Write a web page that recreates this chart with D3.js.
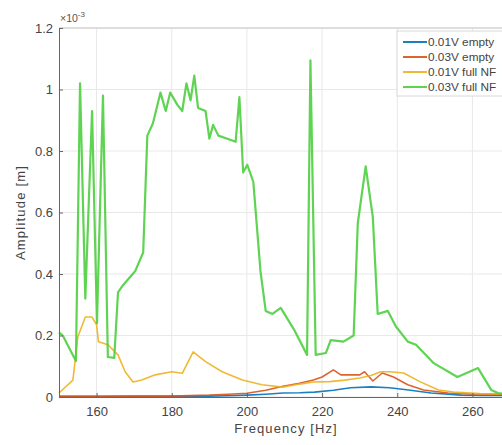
<!DOCTYPE html>
<html><head><meta charset="utf-8">
<script src="https://cdn.jsdelivr.net/npm/d3@7"></script>
<style>
html,body{margin:0;padding:0;background:#fff;}
svg{display:block;font-family:"Liberation Sans",Arial,sans-serif;}
</style></head><body>
<svg id="c" width="502" height="445"></svg>
<script>
// Frequency [Hz] / amplitude [x1e-3 m]
const seriesNames = ["0.01V empty", "0.03V empty", "0.01V full NF", "0.03V full NF"];
const seriesColors = ["#0072BD", "#D95319", "#EDB120", "#4ccf3f"];
const xTicks = [160, 180, 200, 220, 240, 260];
const yTicks = [0, 0.2, 0.4, 0.6, 0.8, 1, 1.2];

const blueF = [150, 160, 170, 180, 190, 195, 200, 205, 209.6, 214, 218, 223, 227.6, 233, 238, 243, 249, 257, 263, 270];
const blueV = [0.001, 0.001, 0.002, 0.002, 0.003, 0.004, 0.006, 0.009, 0.013, 0.014, 0.016, 0.022, 0.03, 0.033, 0.03, 0.023, 0.013, 0.006, 0.005, 0.005];

const orangeF = [150, 160, 170, 180, 190, 195, 200, 205, 209.6, 214, 217.7, 220, 223, 225, 230, 231.3, 233.5, 236, 239, 242.8, 247, 253.5, 260, 270];
const orangeV = [0.003, 0.003, 0.003, 0.003, 0.006, 0.009, 0.012, 0.022, 0.035, 0.045, 0.055, 0.065, 0.088, 0.072, 0.072, 0.082, 0.052, 0.078, 0.065, 0.04, 0.023, 0.013, 0.01, 0.009];

const yellowF = [150, 153.7, 155, 157, 158.8, 160, 160.5, 163, 165.7, 167.6, 169.7, 172, 175.6, 180, 182.8, 185.7, 189, 193.4, 198.8, 204, 209.5, 214, 217.7, 222, 226, 230, 233, 235.6, 238, 241.7, 246, 251, 255, 262, 270];
const yellowV = [0.013, 0.055, 0.195, 0.26, 0.26, 0.235, 0.18, 0.17, 0.137, 0.082, 0.049, 0.055, 0.072, 0.082, 0.077, 0.147, 0.115, 0.082, 0.055, 0.04, 0.032, 0.042, 0.049, 0.05, 0.055, 0.062, 0.07, 0.082, 0.082, 0.078, 0.05, 0.023, 0.016, 0.011, 0.01];

const greenF = [150, 151, 154.5, 155.6, 157, 158.8, 160.1, 161.7, 163, 164.7, 165.7, 166.8, 170.3, 172.4, 173.5, 175, 177, 178.4, 179.6, 181.5, 182.8, 183.9, 185, 186, 187, 189, 190, 191, 192.4, 194.8, 197, 198, 199, 200.1, 201.7, 203.6, 205, 206.8, 209, 212.5, 216, 216.9, 218.3, 221, 222.3, 225.7, 228.4, 229.5, 231.6, 233.5, 234.8, 237.5, 239.6, 242.8, 245, 249.7, 256, 261.5, 265, 266.8, 270];
const greenV = [0.21, 0.2, 0.117, 1.02, 0.32, 0.93, 0.24, 0.98, 0.13, 0.127, 0.34, 0.36, 0.41, 0.47, 0.85, 0.89, 0.99, 0.93, 0.99, 0.95, 0.93, 1.02, 0.965, 1.045, 0.94, 0.93, 0.84, 0.885, 0.85, 0.84, 0.83, 0.975, 0.73, 0.755, 0.70, 0.41, 0.28, 0.27, 0.29, 0.22, 0.137, 1.095, 0.137, 0.143, 0.185, 0.18, 0.20, 0.565, 0.75, 0.585, 0.27, 0.28, 0.23, 0.18, 0.17, 0.11, 0.065, 0.094, 0.023, 0.013, 0.008];

const allF = [blueF, orangeF, yellowF, greenF];
const allV = [blueV, orangeV, yellowV, greenV];

const svg = d3.select("#c");
const L = 59, T = 28, R = 510, B = 397;
const x = d3.scaleLinear().domain([150, 270]).range([L, R]);
const y = d3.scaleLinear().domain([0, 1.2]).range([B, T]);

// grid
const g = svg.append("g");
g.selectAll(".gx").data(xTicks).join("line")
  .attr("x1", d => x(d)).attr("x2", d => x(d)).attr("y1", T).attr("y2", B)
  .attr("stroke", "#e8e8e8").attr("stroke-width", 1);
g.selectAll(".gy").data(yTicks).join("line")
  .attr("x1", L).attr("x2", R).attr("y1", d => y(d)).attr("y2", d => y(d))
  .attr("stroke", "#e8e8e8").attr("stroke-width", 1);

// box top
svg.append("line").attr("x1", L).attr("x2", R).attr("y1", T).attr("y2", T).attr("stroke", "#c8c8c8");

// lines
const line = d3.line().x(d => x(d[0])).y(d => y(d[1]));
[0, 1, 2, 3].forEach(i => {
  const pts = allF[i].map((f, k) => [f, allV[i][k]]);
  svg.append("path").datum(pts).attr("d", line)
    .attr("fill", "none").attr("stroke", seriesColors[i])
    .attr("stroke-width", i === 3 ? 2.2 : 1.6).attr("stroke-linejoin", "round")
    .attr("opacity", 0.9);
});

// axes
const xa = svg.append("g").attr("transform", `translate(0,${B})`)
  .call(d3.axisBottom(x).tickValues(xTicks).tickSize(-4).tickPadding(10).tickFormat(d3.format("d")));
const ya = svg.append("g").attr("transform", `translate(${L},0)`)
  .call(d3.axisLeft(y).tickValues(yTicks).tickSize(-4).tickPadding(6).tickFormat(d => d === 0 ? "0" : d3.format("~g")(d)));
[xa, ya].forEach(a => {
  a.select(".domain").attr("stroke", "#666");
  a.selectAll(".tick line").attr("stroke", "#666");
  a.selectAll("text").attr("fill", "#444").attr("font-size", 13).attr("font-family", "Liberation Sans, Arial, sans-serif");
});

// exponent
const ex = svg.append("text").attr("x", 60).attr("y", 22).attr("fill", "#555").attr("font-size", 10.5);
ex.append("tspan").text("×10");
ex.append("tspan").attr("dy", -5).attr("font-size", 8).text("-3");

// axis labels
svg.append("text").attr("x", 286).attr("y", 433).attr("text-anchor", "middle")
  .attr("font-size", 13).attr("letter-spacing", 1.1).attr("fill", "#444").text("Frequency [Hz]");
svg.append("text").attr("transform", `translate(25,${(T + B) / 2}) rotate(-90)`).attr("text-anchor", "middle")
  .attr("font-size", 13).attr("letter-spacing", 1.2).attr("fill", "#444").text("Amplitude [m]");

// legend
const lg = svg.append("g");
lg.append("rect").attr("x", 397).attr("y", 31).attr("width", 120).attr("height", 65)
  .attr("fill", "#fff").attr("stroke", "#d8d8d8");
seriesNames.forEach((n, i) => {
  const yy = 42 + i * 15;
  lg.append("line").attr("x1", 403).attr("x2", 427).attr("y1", yy).attr("y2", yy)
    .attr("stroke", seriesColors[i]).attr("stroke-width", 1.8);
  lg.append("text").attr("x", 428).attr("y", yy + 4).attr("font-size", 11.8)
    .attr("fill", "#444").text(n);
});
</script>
</body></html>
